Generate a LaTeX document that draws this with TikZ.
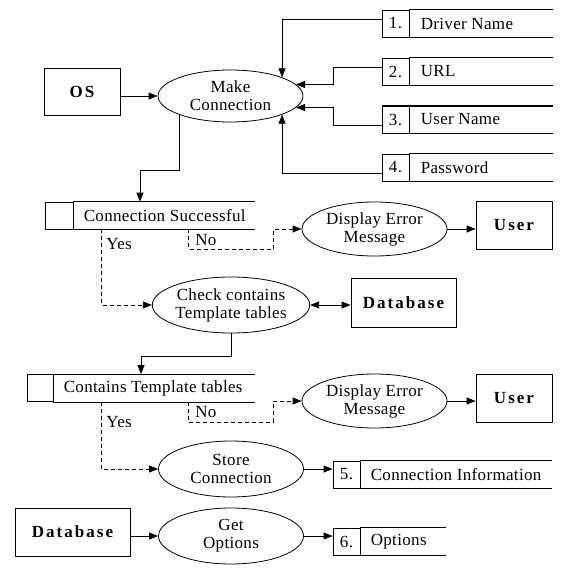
\documentclass[tikz,border=0pt]{standalone}
\usepackage{fontspec}
\setmainfont{Liberation Serif}[LetterSpace=2]
\newfontfamily\entityfont{Liberation Serif}[LetterSpace=12]
\usepackage{tikz}
\usetikzlibrary{shapes.geometric, arrows.meta, positioning}

\begin{document}
\begin{tikzpicture}[
	x = 1pt, y = -1pt,
	line width = 0.8pt,
	font = \fontsize{17}{18}\selectfont,
	process/.style   = {ellipse, draw, minimum width=145pt, minimum height=54pt, inner sep=0pt, align=center},
	entity/.style    = {draw, minimum width=76pt, minimum height=48pt, inner sep=0pt,
		font=\fontsize{17}{18}\selectfont\entityfont\bfseries},
	numcell/.style   = {draw, minimum width=27pt, minimum height=27pt, inner sep=0pt},
	storetext/.style = {inner sep=0pt},
	answer/.style    = {inner sep=0pt, anchor=west},
	flow/.style      = {-{Triangle[length=9pt, width=7pt]}},
	dflow/.style     = {flow, dash pattern=on 4pt off 3pt}
]
	\fill[white] (0,0) rectangle (567,578);
	\useasboundingbox (0,0) rectangle (567,578);

	% data stores feeding the connection
	\foreach \n/\txt in {1/Driver Name, 2/URL, 3/User Name, 4/Password} {
		\node[numcell] (c\n) at (395.5, {23.5+48*(\n-1)}) {\n.};
		\node[storetext, right=11pt of c\n] (t\n) {\txt};
		\draw (c\n.north east) -- ++(144,0) (c\n.south east) -- ++(144,0);
	}
	\draw[line width=2pt] (c3.north west) -- ++(171,0);

	\node[entity, minimum height=47pt] (os) at (82,91.5) {OS};
	\node[process, minimum height=52pt] (mc) at (230.5,96) {Make\\Connection};

	\node[numcell, minimum width=28pt] (cc1) at (59,215.5) {};
	\node[storetext, right=10pt of cc1] (ct1) {Connection Successful};
	\draw (cc1.north east) -- ++(182,0) (cc1.south east) -- ++(182,0);

	\node[process] (de1) at (374.5,229) {Display Error\\Message};
	\node[entity] (u1) at (514,225) {User};
	\node[process, minimum height=56pt] (chk) at (231,305) {Check contains\\Template tables};
	\node[entity, minimum width=105pt, minimum height=49pt] (db1) at (403.5,302.5) {Database};

	\node[numcell, minimum width=26pt] (cc2) at (40,388) {};
	\node[storetext, right=10pt of cc2] (ct2) {Contains Template tables};
	\draw (cc2.north east) -- ++(202,0) (cc2.south east) -- ++(202,0);

	\node[process] (de2) at (374.5,401) {Display Error\\Message};
	\node[entity] (u2) at (514,398) {User};
	\node[process, minimum height=56pt] (sc) at (231,469) {Store\\Connection};

	\node[numcell] (c5) at (346.5,474.5) {5.};
	\node[storetext, right=10pt of c5] (t5) {Connection Information};
	\draw (c5.north east) -- ++(192,0) (c5.south east) -- ++(192,0);

	\node[entity, minimum width=115pt] (db2) at (72.5,532) {Database};
	\node[process, minimum height=56pt] (go) at (231,536) {Get\\Options};

	\node[numcell] (c6) at (346.5,541.5) {6.};
	\node[storetext, right=10pt of c6] (t6) {Options};
	\draw (c6.north east) -- ++(86,0) (c6.south east) -- ++(86,0);

	\node[answer] (yes1) at (106,244) {Yes};
	\node[answer] (no1) at (195,240) {No};
	\node[answer] (yes2) at (106,422) {Yes};
	\node[answer] (no2) at (195,412) {No};

	% connectors
	\draw[flow] (os.east |- mc.west) -- (mc.west);
	\draw[flow] ([yshift=4.5pt]c1.west) -| (mc.north east);
	\draw[flow] ([yshift=4.5pt]c2.west) -| ([xshift=37pt]mc.10) -- (mc.10);
	\draw[flow] ([yshift=-5.5pt]c3.west) -| ([xshift=37pt]mc.-10) -- (mc.-10);
	\draw[flow] ([yshift=-5.5pt]c4.west) -| (mc.south east);
	\draw[flow] (mc.south west) |- ([xshift=81pt, yshift=31pt]cc1.north) -- ([xshift=81pt]cc1.north);

	\draw[dflow] ([xshift=28pt]cc1.south east) |- (chk.west);
	\draw[dflow] ([xshift=115pt]cc1.south east) |- ([xshift=-28pt, yshift=-20pt]de1.west) |- (de1.west);
	\draw[flow] (de1.east) -- (de1.east -| u1.west);
	\draw[{Triangle[length=9pt, width=7pt]}-{Triangle[length=9pt, width=7pt]}] (chk.east) -- (chk.east -| db1.west);
	\draw[flow] (chk.south) |- ([xshift=101pt, yshift=18pt]cc2.north) -- ([xshift=101pt]cc2.north);

	\draw[dflow] ([xshift=48pt]cc2.south east) |- (sc.west);
	\draw[dflow] ([xshift=135pt]cc2.south east) |- ([xshift=-28pt, yshift=-21pt]de2.west) |- (de2.west);
	\draw[flow] (de2.east) -- (de2.east -| u2.west);
	\draw[flow] (sc.east) -- (sc.east -| c5.west);
	\draw[flow] (db2.east |- go.west) -- (go.west);
	\draw[flow] (go.east) -- (go.east -| c6.west);
\end{tikzpicture}
\end{document}
